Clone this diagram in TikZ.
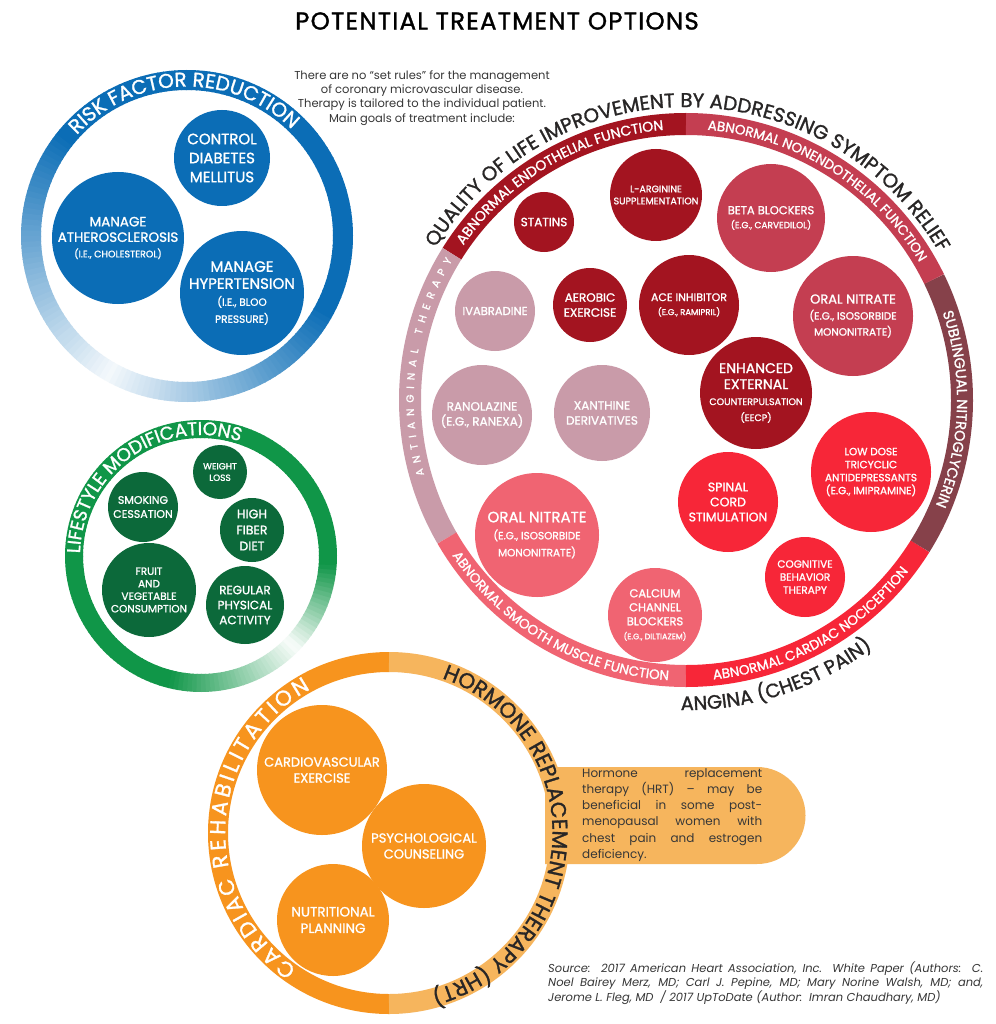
\documentclass[tikz,border=0pt]{standalone}
\usepackage{fontspec}
\setmainfont{Poppins}
\newfontfamily\pmed{Poppins}[FakeBold=1.3]
\usetikzlibrary{decorations.text}
\definecolor{rfblue}{RGB}{11,109,182}
\definecolor{lmgreen}{RGB}{16,150,72}
\definecolor{lmdark}{RGB}{12,105,58}
\definecolor{endo}{RGB}{163,20,32}
\definecolor{nonendo}{RGB}{196,62,81}
\definecolor{antiang}{RGB}{201,155,169}
\definecolor{smc}{RGB}{240,100,114}
\definecolor{nocic}{RGB}{247,38,56}
\definecolor{subl}{RGB}{134,65,74}
\definecolor{orgdark}{RGB}{247,148,30}
\definecolor{orglight}{RGB}{246,181,93}
\definecolor{txtdark}{RGB}{40,38,38}
\definecolor{txtgray}{RGB}{55,55,55}
\newcommand\fsz[2]{\fontsize{#1}{#2}\selectfont}
\newcommand\lab[2]{\pmed\fontsize{#1}{#2}\selectfont}
% center, radius, mid angle, half span, format, text
\newcommand\ringcw[6]{\path[decorate, decoration={text along path, text align=center, text={|#5|#6}}] (#1) ++({#3+#4}:#2) arc[start angle={#3+#4}, end angle={#3-#4}, radius=#2];}
\newcommand\ringccw[6]{\path[decorate, decoration={text along path, text align=center, text={|#5|#6}}] (#1) ++({#3-#4}:#2) arc[start angle={#3-#4}, end angle={#3+#4}, radius=#2];}
% tracked clockwise text: center, baseline radius, start angle, tracking, font size, colour, list of char/width(em)
\newcommand\trackcw[7]{%
  \xdef\tcang{#3}%
  \foreach \ch/\cw [count=\k] in {#7}{%
    \pgfmathsetmacro\tcw{\cw*#5}%
    \pgfmathsetmacro\tcmid{\tcang-(\tcw/2)/#2*57.2958}%
    \node[anchor=base, inner sep=0pt, text=#6, font=\lab{#5}{#5}, rotate=\tcmid-90] (#1t\k) at ([shift={(\tcmid:#2)}]#1) {\ch};%
    \pgfmathsetmacro\tcnext{\tcang-(\tcw+#4)/#2*57.2958}%
    \xdef\tcang{\tcnext}%
  }%
}
\hbadness=10000
\begin{document}
\begin{tikzpicture}[x=1pt,y=1pt,
  bub/.style={circle, inner sep=0pt, align=center, text=white}]
\useasboundingbox (0,0) rectangle (995,-1024);
\fill[white] (0,0) rectangle (995,-1024);

% title and intro
\node[font={\lab{24.5}{28}\addfontfeature{LetterSpace=5}}, text=black] (title) at (497,-21) {POTENTIAL TREATMENT OPTIONS};
\node[align=center, font=\fsz{11.5}{14.3}, text=txtgray] (intro) at (422,-98)
  {There are no “set rules” for the management\\of coronary microvascular disease.\\Therapy is tailored to the individual patient.\\Main goals of treatment include:};

% ---------------- risk factor reduction
\coordinate (rfc) at (187,-236);
\foreach \a in {0,2,...,358}{
  \pgfmathtruncatemacro\p{\a<=140 ? 100 : (\a<=240 ? 100-(\a-140)/100*95 : (\a<=330 ? 5+(\a-240)/90*95 : 100))}
  \draw[rfblue!\p!white, line width=20] (rfc) ++(\a:156) arc[start angle=\a, end angle=\a+2.4, radius=156];
}
\ringcw{rfc}{149.5}{91.5}{89}{\lab{20}{20}\color{white}}{RISK FACTOR REDUCTION}
\node[bub, fill=rfblue, minimum size=96, font=\lab{15}{19}] (diab) at (222,-158) {CONTROL\\DIABETES\\MELLITUS};
\node[bub, fill=rfblue, minimum size=132, font=\lab{13.5}{15.5}] (ath) at (118,-238) {MANAGE\\ATHEROSCLEROSIS\\{\lab{9.5}{12}(I.E., CHOLESTEROL)}};
\node[bub, fill=rfblue, minimum size=124, font=\lab{15}{17}] (hyp) at (242,-293) {MANAGE\\HYPERTENSION\\{\lab{10.5}{13}(I.E., BLOO}\\{\lab{10.5}{13}PRESSURE)}};

% ---------------- lifestyle modifications
\coordinate (lmc) at (201,-556);
\foreach \a in {0,2,...,358}{
  \pgfmathtruncatemacro\p{\a<=255 ? 100 : (\a<=315 ? 100-(\a-255)/60*97 : (\a<=355 ? 3+(\a-315)/40*97 : 100))}
  \draw[lmgreen!\p!white, line width=18] (lmc) ++(\a:127) arc[start angle=\a, end angle=\a+2.4, radius=127];
}
\ringcw{lmc}{121}{125}{89}{\lab{18.5}{18.5}\color{white}}{LIFESTYLE MODIFICATIONS}
\node[bub, fill=lmdark, minimum size=54, font=\lab{9}{11.5}] (wl) at (220,-472) {WEIGHT\\LOSS};
\node[bub, fill=lmdark, minimum size=70, font=\lab{11}{14}] (smk) at (143,-507) {SMOKING\\CESSATION};
\node[bub, fill=lmdark, minimum size=64, font=\lab{12.5}{16}] (fib) at (252,-530) {HIGH\\FIBER\\DIET};
\node[bub, fill=lmdark, minimum size=94, font=\lab{10.5}{12.5}] (fru) at (149,-590) {FRUIT\\AND\\VEGETABLE\\CONSUMPTION};
\node[bub, fill=lmdark, minimum size=78, font=\lab{12}{15}] (reg) at (245,-605) {REGULAR\\PHYSICAL\\ACTIVITY};

% ---------------- quality of life circle
\coordinate (qc) at (686,-400);
\draw[endo, line width=22] (qc) ++(90:276) arc[start angle=90, end angle=148, radius=276];
\draw[antiang, line width=22] (qc) ++(148:276) arc[start angle=148, end angle=210, radius=276];
\draw[smc, line width=22] (qc) ++(210:276) arc[start angle=210, end angle=270, radius=276];
\draw[nocic, line width=22] (qc) ++(270:276) arc[start angle=270, end angle=328, radius=276];
\draw[subl, line width=22] (qc) ++(-32:276) arc[start angle=-32, end angle=26, radius=276];
\draw[nonendo, line width=22] (qc) ++(26:276) arc[start angle=26, end angle=90, radius=276];
\ringcw{qc}{293}{89.5}{89}{\lab{19.8}{19.8}\color{txtdark}}{QUALITY OF LIFE IMPROVEMENT BY ADDRESSING SYMPTOM RELIEF}
\ringccw{qc}{310}{288}{89}{\lab{19.5}{19.5}\color{txtdark}}{ANGINA (CHEST PAIN)}
\ringcw{qc}{271}{120}{60}{\lab{14}{14}\color{white}}{ABNORMAL ENDOTHELIAL FUNCTION}
\ringcw{qc}{271}{58}{60}{\lab{13.5}{13.5}\color{white}}{ABNORMAL NONENDOTHELIAL FUNCTION}
\ringcw{qc}{271}{-2}{60}{\lab{14.5}{14.5}\color{white}}{SUBLINGUAL NITROGLYCERIN}
\ringccw{qc}{280.7}{240}{60}{\lab{13.5}{13.5}\color{white}}{ABNORMAL SMOOTH MUSCLE FUNCTION}
\ringccw{qc}{280.7}{299}{60}{\lab{13.5}{13.5}\color{white}}{ABNORMAL CARDIAC NOCICEPTION}
\trackcw{qc}{272.3}{196}{5.5}{10.5}{white}{A/.72,N/.76,T/.62,I/.27,A/.72,N/.76,G/.77,I/.27,N/.76,A/.72,L/.55,\ /.26,T/.62,H/.75,E/.60,R/.66,A/.72,P/.63,Y/.66}

\node[bub, fill=endo, minimum size=60, font=\lab{12}{14}] (statins) at (544,-222) {STATINS};
\node[bub, fill=endo, minimum size=92, font=\lab{9.5}{12}] (larg) at (656,-195) {L-ARGININE\\SUPPLEMENTATION};
\node[bub, fill=nonendo, minimum size=108, font=\lab{11.5}{14}] (beta) at (771,-218) {BETA BLOCKERS\\{\lab{9}{12}(E.G., CARVEDILOL)}};
\node[bub, fill=antiang, minimum size=80, font=\lab{11.5}{13}] (ivab) at (495,-311) {IVABRADINE};
\node[bub, fill=endo, minimum size=74, font=\lab{12}{15}] (aero) at (590,-305) {AEROBIC\\EXERCISE};
\node[bub, fill=endo, minimum size=100, font=\lab{11}{14}] (ace) at (689,-305) {ACE INHIBITOR\\{\lab{8.5}{11}(E.G., RAMIPRIL)}};
\node[bub, fill=nonendo, minimum size=120, font=\lab{13}{16}] (onr) at (853,-316) {ORAL NITRATE\\{\lab{10.5}{13.5}(E.G., ISOSORBIDE}\\{\lab{10.5}{13.5}MONONITRATE)}};
\node[bub, fill=antiang, minimum size=100, font=\lab{12}{15}] (rano) at (482,-415) {RANOLAZINE\\(E.G., RANEXA)};
\node[bub, fill=antiang, minimum size=96, font=\lab{12}{15}] (xan) at (602,-413) {XANTHINE\\DERIVATIVES};
\node[bub, fill=endo, minimum size=112, font=\lab{14}{16}] (eecp) at (756,-393) {ENHANCED\\EXTERNAL\\{\lab{9.5}{11}COUNTERPULSATION}\\{\lab{9.5}{11}(EECP)}};
\node[bub, fill=nocic, minimum size=120, font=\lab{10.5}{13}] (tca) at (871,-472) {LOW DOSE\\TRICYCLIC\\ANTIDEPRESSANTS\\(E.G., IMIPRAMINE)};
\node[bub, fill=smc, minimum size=124, font=\lab{15}{17}] (onl) at (537,-535) {ORAL NITRATE\\{\lab{10.5}{13.5}(E.G., ISOSORBIDE}\\{\lab{10.5}{13.5}MONONITRATE)}};
\node[bub, fill=nocic, minimum size=100, font=\lab{12.5}{15}] (scs) at (728,-502) {SPINAL\\CORD\\STIMULATION};
\node[bub, fill=nocic, minimum size=80, font=\lab{10.5}{13}] (cbt) at (805,-577) {COGNITIVE\\BEHAVIOR\\THERAPY};
\node[bub, fill=smc, minimum size=94, font=\lab{11.5}{14}] (ccb) at (655,-615) {CALCIUM\\CHANNEL\\BLOCKERS\\{\lab{8}{10}(E.G., DILTIAZEM)}};

% ---------------- cardiac rehabilitation / HRT
\coordinate (oc) at (389,-833);
\fill[orglight] (545,-767) -- (757,-767) arc[start angle=90, end angle=-90, radius=48.5] -- (545,-864) -- cycle;
\draw[orgdark, line width=20] (oc) ++(90:171) arc[start angle=90, end angle=270, radius=171];
\draw[orglight, line width=20] (oc) ++(-90:171) arc[start angle=-90, end angle=90, radius=171];
\trackcw{oc}{163.8}{235.5}{2.5}{21.5}{white}{C/.73,A/.72,R/.66,D/.75,I/.27,A/.72,C/.73,\ /.26,R/.66,E/.60,H/.75,A/.72,B/.67,I/.27,L/.55,I/.27,T/.62,A/.72,T/.62,I/.27,O/.80,N/.76}
\ringcw{oc}{163.5}{-2}{100}{\lab{21.5}{21.5}\color{txtdark}}{HORMONE REPLACEMENT THERAPY (HRT)}
\node[bub, fill=orgdark, minimum size=130, font=\lab{13}{16}] (cve) at (322,-770) {CARDIOVASCULAR\\EXERCISE};
\node[bub, fill=orgdark, minimum size=124, font=\lab{13}{16}] (psy) at (424,-846) {PSYCHOLOGICAL\\COUNSELING};
\node[bub, fill=orgdark, minimum size=112, font=\lab{13.5}{16.5}] (nut) at (333,-920) {NUTRITIONAL\\PLANNING};
\node[anchor=north west, inner sep=0pt, text width=180, align=justify, font=\fsz{12}{16.3}, text=txtgray] (hrtbox) at (582,-768)
  {Hormone replacement\linebreak therapy (HRT) – may be\linebreak beneficial in some post-\linebreak menopausal women with\linebreak chest pain and estrogen\linebreak deficiency.};

% ---------------- source
\node[anchor=north west, inner sep=0pt, text width=435, align=justify, font=\fsz{11.5}{13.8}\itshape, text=txtgray] (src) at (548,-962)
  {Source:\ \ 2017 American Heart Association, Inc. White Paper (Authors:\ \ C.\linebreak Noel Bairey Merz, MD; Carl J. Pepine, MD; Mary Norine Walsh, MD; and,\linebreak Jerome L. Fleg, MD\ \ / 2017 UpToDate (Author:\ \ Imran Chaudhary, MD)};
\end{tikzpicture}
\end{document}
